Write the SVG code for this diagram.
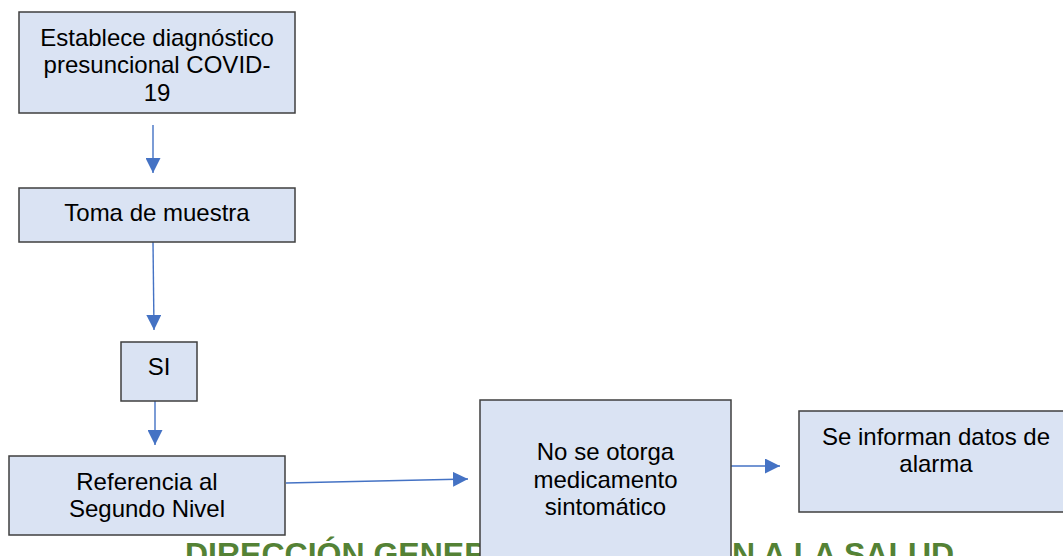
<svg xmlns="http://www.w3.org/2000/svg" width="1063" height="556" viewBox="0 0 1063 556">
  <style>
    .box { fill: #DAE3F3; stroke: #3F3F3F; stroke-width: 1.5; }
    .lbl { font-family: "Liberation Sans", Arial, sans-serif; font-size: 24px; fill: #000; text-anchor: middle; }
    .conn { stroke: #4472C4; stroke-width: 1.4; fill: none; }
    .wm { font-family: "Liberation Sans", Arial, sans-serif; font-size: 32px; font-weight: bold; fill: #548235; }
  </style>
  <defs>
    <marker id="arr" markerUnits="userSpaceOnUse" markerWidth="15" markerHeight="15" refX="15" refY="7.5" orient="auto">
      <path d="M0,0 L15,7.5 L0,15 z" fill="#4472C4"/>
    </marker>
  </defs>
  <rect width="1063" height="556" fill="#FFFFFF"/>

  <text class="wm" x="185" y="565">DIRECCIÓN GENERAL DE ATENCIÓN A LA SALUD</text>

  <g id="connectors">
    <line class="conn" x1="153" y1="125" x2="153" y2="173" marker-end="url(#arr)"/>
    <line class="conn" x1="153" y1="242" x2="154" y2="330" marker-end="url(#arr)"/>
    <line class="conn" x1="155" y1="401" x2="155" y2="445" marker-end="url(#arr)"/>
    <line class="conn" x1="286" y1="483" x2="468" y2="479" marker-end="url(#arr)"/>
    <line class="conn" x1="731" y1="466" x2="780" y2="466" marker-end="url(#arr)"/>
  </g>

  <g id="n1">
    <rect class="box" x="19" y="12" width="276" height="101"/>
    <text class="lbl" x="157" y="45.5">Establece diagnóstico</text>
    <text class="lbl" x="157" y="73">presuncional COVID-</text>
    <text class="lbl" x="157" y="100.5">19</text>
  </g>

  <g id="n2">
    <rect class="box" x="19" y="188" width="276" height="54"/>
    <text class="lbl" x="157" y="221">Toma de muestra</text>
  </g>

  <g id="n3">
    <rect class="box" x="121" y="342" width="76" height="59"/>
    <text class="lbl" x="159" y="375">SI</text>
  </g>

  <g id="n4">
    <rect class="box" x="9" y="456" width="276" height="79"/>
    <text class="lbl" x="147" y="490">Referencia al</text>
    <text class="lbl" x="147" y="516.5">Segundo Nivel</text>
  </g>

  <g id="n5">
    <rect class="box" x="480" y="400" width="251" height="180"/>
    <text class="lbl" x="605.5" y="460">No se otorga</text>
    <text class="lbl" x="605.5" y="487.5">medicamento</text>
    <text class="lbl" x="605.5" y="515">sintomático</text>
  </g>

  <g id="n6">
    <rect class="box" x="799" y="411" width="274" height="101"/>
    <text class="lbl" x="936" y="445">Se informan datos de</text>
    <text class="lbl" x="936" y="471.5">alarma</text>
  </g>
</svg>
